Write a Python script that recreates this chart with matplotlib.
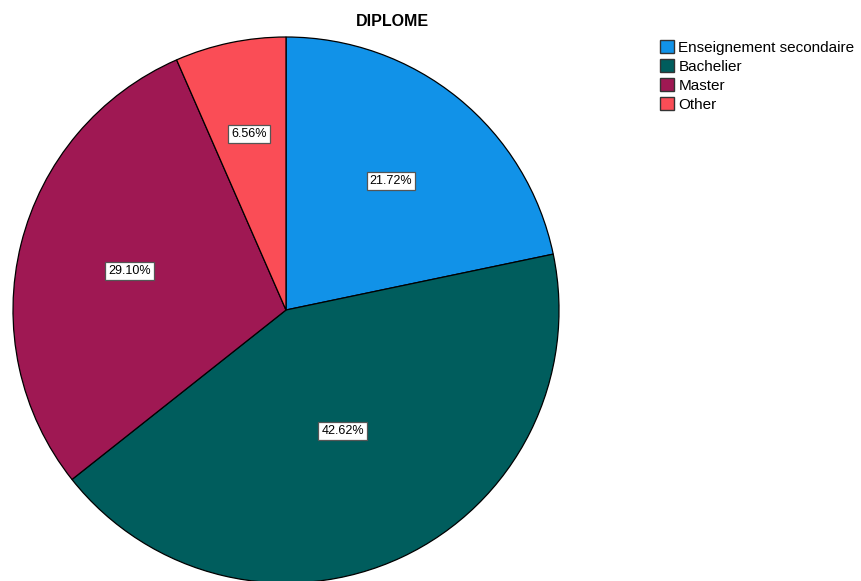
import matplotlib
matplotlib.use("Agg")
import matplotlib.pyplot as plt
from matplotlib.patches import Patch
import numpy as np

plt.rcParams["font.family"] = ["Liberation Sans", "DejaVu Sans"]

categories = ["Enseignement secondaire", "Bachelier", "Master", "Other"]
shares = [21.72, 42.62, 29.10, 6.56]
colors = ["#1192E8", "#005D5D", "#9F1853", "#FA4D56"]
label_radius = [0.61, 0.49, 0.59, 0.66]

fig = plt.figure(figsize=(8.61, 5.81), dpi=100)
cx, cy, r = 286, 310, 273
W, H = 861, 581
ax = fig.add_axes([(cx - r) / W, (H - cy - r) / H, 2 * r / W, 2 * r / H])

wedges, _ = ax.pie(shares, colors=colors, startangle=90, counterclock=False,
                   wedgeprops=dict(edgecolor="black", linewidth=0.9))
ax.set_xlim(-1, 1)
ax.set_ylim(-1, 1)
ax.set_aspect("auto")
ax.axis("off")

for w, val, rr in zip(wedges, shares, label_radius):
    mid = np.deg2rad((w.theta1 + w.theta2) / 2)
    ax.text(rr * np.cos(mid), rr * np.sin(mid), f"{val:.2f}%", ha="center", va="center",
            fontsize=9, bbox=dict(boxstyle="square,pad=0.25", facecolor="white",
                                  edgecolor="#555555", linewidth=0.9))

fig.text(392 / W, 1 - 21 / H, "DIPLOME", ha="center", va="center",
         fontsize=11.5, fontweight="bold")

handles = [Patch(facecolor=c, edgecolor="#333333", label=l) for c, l in zip(colors, categories)]
fig.legend(handles=handles, loc="upper left", bbox_to_anchor=(660 / W, 1 - 40 / H),
           frameon=False, fontsize=11, handlelength=0.9, handleheight=0.95,
           handletextpad=0.3, labelspacing=0.27, borderpad=0, borderaxespad=0)

fig.savefig("out.png", dpi=100)
